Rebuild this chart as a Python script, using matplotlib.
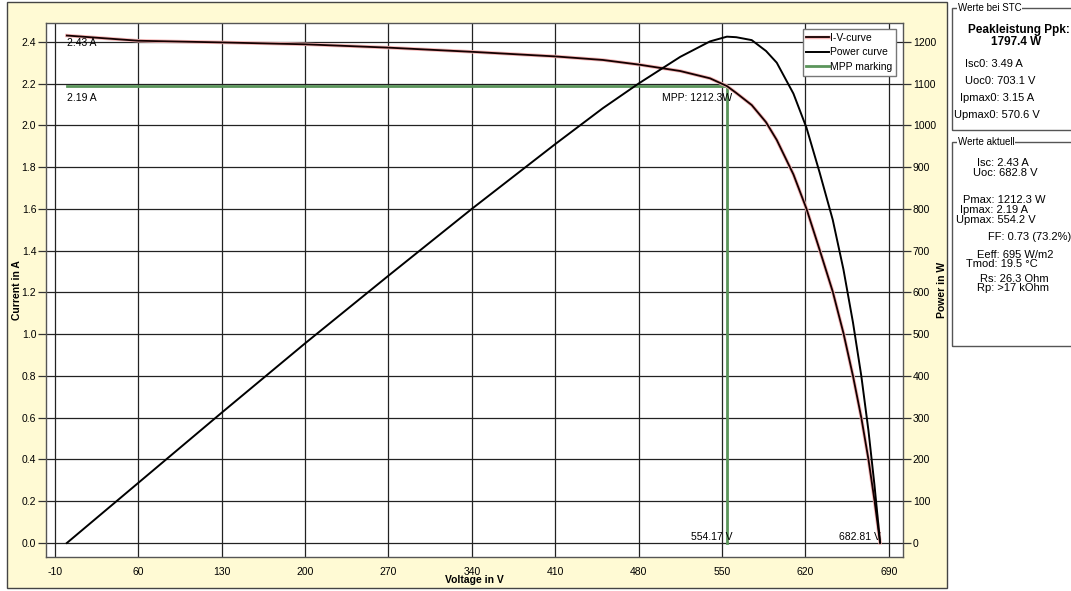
import matplotlib
matplotlib.use("Agg")
import matplotlib.pyplot as plt
import matplotlib.patheffects as pe
from matplotlib.patches import Rectangle

plt.rcParams['font.family'] = ['Liberation Sans', 'DejaVu Sans']
plt.rcParams['axes.unicode_minus'] = False

# measured I-V sweep and power curve
voltage = [0, 60, 130, 200, 270, 340, 410, 450, 480, 515, 540, 554.17, 562,
           575, 587, 596, 610, 621, 632, 643, 652, 660, 667, 673, 678, 682.81]
current = [2.430, 2.405, 2.397, 2.388, 2.372, 2.352, 2.330, 2.313, 2.291,
           2.260, 2.225, 2.188, 2.155, 2.097, 2.015, 1.930, 1.765, 1.600,
           1.404, 1.204, 1.005, 0.800, 0.600, 0.400, 0.206, 0.0]
power = [0, 144, 312, 478, 640, 800, 955, 1041, 1100, 1164, 1201, 1212.3,
         1211, 1204, 1178, 1150, 1076, 994, 887, 774, 655, 528, 400, 269,
         140, 0]

isc = 2.43
voc = 682.81
mpp_u = 554.17
mpp_i = 2.19
mpp_p = 1212.3

x_ticks = [-10, 60, 130, 200, 270, 340, 410, 480, 550, 620, 690]
i_ticks = [0.0, 0.2, 0.4, 0.6, 0.8, 1.0, 1.2, 1.4, 1.6, 1.8, 2.0, 2.2, 2.4]
p_ticks = [0, 100, 200, 300, 400, 500, 600, 700, 800, 900, 1000, 1100, 1200]

stc_lines = [("Isc0: 3.49 A", 994, 64), ("Uoc0: 703.1 V", 1000, 81),
             ("Ipmax0: 3.15 A", 997, 98), ("Upmax0: 570.6 V", 997, 115)]
akt_lines = [("Isc: 2.43 A", 1003, 163), ("Uoc: 682.8 V", 1005, 173),
             ("Pmax: 1212.3 W", 1004, 200), ("Ipmax: 2.19 A", 994, 210),
             ("Upmax: 554.2 V", 996, 220), ("FF: 0.73 (73.2%)", 1030, 237),
             ("Eeff: 695 W/m2", 1015, 255), ("Tmod: 19.5 °C", 1002, 264),
             ("Rs: 26.3 Ohm", 1014, 279), ("Rp: >17 kOhm", 1013, 288)]

W, H = 1071, 591
fig = plt.figure(figsize=(W / 100, H / 100), dpi=100, facecolor='white')


def fx(x):
    return x / W


def fy(y):
    return 1 - y / H


# yellow chart panel
fig.add_artist(Rectangle((fx(7), fy(588)), fx(947) - fx(7), fy(2) - fy(588),
                         transform=fig.transFigure, facecolor='#fffad4',
                         edgecolor='#444444', lw=1, zorder=0))

ax = fig.add_axes([fx(46), fy(557), fx(903) - fx(46), fy(23) - fy(557)])
ax.set_facecolor('white')
ax.set_xlim(-17.5, 702)
ax.set_ylim(-0.067, 2.49)
ax.set_xticks(x_ticks)
ax.set_yticks(i_ticks)
ax.set_yticklabels([f"{v:.1f}" for v in i_ticks])
ax.grid(True, color='#222222', lw=0.9)
ax.set_axisbelow(True)
ax.tick_params(axis='y', direction='out', length=6, width=0.9, pad=1,
               labelsize=7.5, color='#333333')
ax.tick_params(axis='x', length=0, pad=7, labelsize=7.5)
for s in ax.spines.values():
    s.set_color('#555555')
    s.set_linewidth(1)
ax.set_xlabel("Voltage in V", fontsize=7.5, fontweight='bold', labelpad=-1)
ax.set_ylabel("Current in A", fontsize=7.5, fontweight='bold', labelpad=0)

ax2 = ax.twinx()
ax2.set_ylim(-0.067 * 500, 2.49 * 500)
ax2.set_yticks(p_ticks)
ax2.tick_params(axis='y', direction='out', length=6, width=0.9, pad=1,
                labelsize=7.5, color='#333333')
for s in ax2.spines.values():
    s.set_visible(False)
ax2.set_ylabel("Power in W", fontsize=7.5, fontweight='bold', labelpad=1)

# MPP marking
mpp_h, = ax.plot([0, mpp_u], [mpp_i, mpp_i], color='#5b955b', lw=2,
                 label="MPP marking", zorder=3)
ax.plot([mpp_u, mpp_u], [0, mpp_i], color='#5b955b', lw=2, zorder=3)

iv_h, = ax.plot(voltage, current, color='#140000', lw=1.3, zorder=4,
                label="I-V-curve",
                path_effects=[pe.Stroke(linewidth=2.5, foreground='#f5b5b5'),
                              pe.Normal()])
p_h, = ax2.plot(voltage, power, color='black', lw=1.4, label="Power curve")

ax.text(0, 2.393, f"{isc:.2f} A", fontsize=7.5, va='center', ha='left',
        zorder=5)
ax.text(0, 2.129, f"{mpp_i:.2f} A", fontsize=7.5, va='center', ha='left')
ax.annotate(f"MPP: {mpp_p}W", (mpp_u, 2.129), xytext=(5, 0),
            textcoords='offset pixels', fontsize=7.5, va='center', ha='right')
ax.annotate(f"{mpp_u:.2f} V", (mpp_u, 0.028), xytext=(6, 0),
            textcoords='offset pixels', fontsize=7.5, va='center', ha='right')
ax.annotate(f"{voc:.2f} V", (voc, 0.028), xytext=(1, 0),
            textcoords='offset pixels', fontsize=7.5, va='center', ha='right')

leg = ax2.legend(handles=[iv_h, p_h, mpp_h], loc='upper right',
                 bbox_to_anchor=(0.992, 0.989), fontsize=7.5, fancybox=False,
                 framealpha=1, edgecolor='#777777', handlelength=2.2,
                 handletextpad=0.1, labelspacing=0.45, borderpad=0.35,
                 borderaxespad=0)
leg.get_frame().set_linewidth(1)

# value group boxes on the right
for (y0, y1, title) in [(8, 130, "Werte bei STC"), (142, 346, "Werte aktuell")]:
    fig.add_artist(Rectangle((fx(952), fy(y1)), fx(1090) - fx(952),
                             fy(y0) - fy(y1), transform=fig.transFigure,
                             facecolor='none', edgecolor='#555555', lw=1))
    fig.text(fx(958), fy(y0), title, fontsize=7, va='center', ha='left',
             bbox=dict(facecolor='white', edgecolor='none', pad=0.5))

fig.text(fx(1019), fy(30), "Peakleistung Ppk:", fontsize=8.5,
         fontweight='bold', ha='center', va='center')
fig.text(fx(1016), fy(42), "1797.4 W", fontsize=8.5, fontweight='bold',
         ha='center', va='center')
for txt, x, y in stc_lines + akt_lines:
    fig.text(fx(x), fy(y), txt, fontsize=8, ha='center', va='center')

fig.savefig("out.png", dpi=100)
